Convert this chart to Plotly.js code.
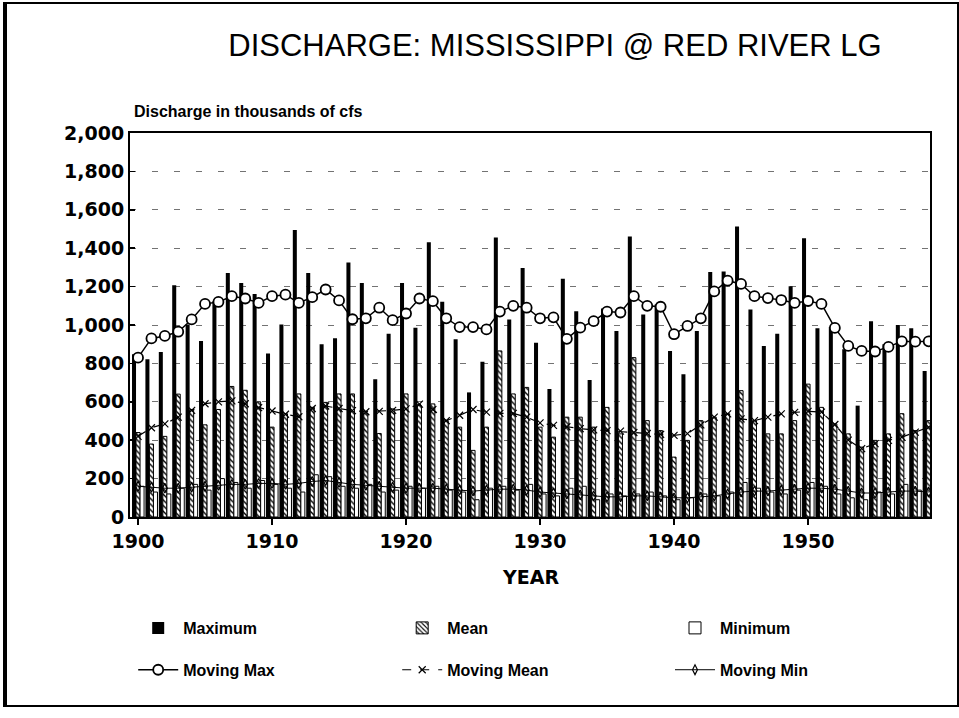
<!DOCTYPE html>
<html>
<head>
<meta charset="utf-8">
<script src="https://cdn.plot.ly/plotly-3.0.1.min.js"></script>
<style>
  html, body { margin: 0; padding: 0; background: #fff; }
  #wrap { position: relative; width: 959px; height: 718px; }
  #chart { width: 959px; height: 718px; }
  #frame { position: absolute; left: 3px; top: 2px; width: 950px; height: 701px;
           border: 2px solid #000; border-left-width: 4px; pointer-events: none; }
</style>
</head>
<body>
<div id="wrap">
  <div id="chart"></div>
  <div id="frame"></div>
</div>
<script>
// ---- data (thousands of cfs) ----
const years = [1900,1901,1902,1903,1904,1905,1906,1907,1908,1909,
               1910,1911,1912,1913,1914,1915,1916,1917,1918,1919,
               1920,1921,1922,1923,1924,1925,1926,1927,1928,1929,
               1930,1931,1932,1933,1934,1935,1936,1937,1938,1939,
               1940,1941,1942,1943,1944,1945,1946,1947,1948,1949,
               1950,1951,1952,1953,1954,1955,1956,1957,1958,1959];

const maximum = [848,822,860,1207,1003,917,1124,1271,1219,1162,
                 851,1003,1495,1271,900,931,1326,1219,718,955,
                 1219,986,1431,1121,926,649,808,1456,1029,1297,
                 908,667,1241,1072,713,1086,969,1461,1055,1107,
                 865,744,969,1276,1279,1513,1081,891,955,1202,
                 1452,983,989,874,580,1020,900,1000,983,761];

const mean = [440,380,420,640,560,480,560,680,660,600,
              468,538,641,571,597,641,641,538,435,563,
              641,580,589,502,468,347,468,865,641,675,
              468,416,520,520,468,571,433,830,502,450,
              312,399,502,520,538,658,502,433,433,502,
              692,571,485,433,364,399,433,538,450,502];

const minimum = [160,130,120,150,170,140,200,180,150,190,
                 170,150,130,220,210,160,150,170,130,140,
                 160,150,160,140,130,90,150,160,140,170,
                 120,110,150,160,90,120,110,120,130,110,
                 90,100,120,110,130,180,150,130,120,140,
                 180,160,120,100,90,130,120,170,140,110];

const movingMax = [830,930,943,965,1029,1110,1120,1150,1138,1115,
                   1150,1158,1115,1145,1185,1128,1030,1035,1090,1025,
                   1060,1138,1124,1035,989,989,977,1070,1100,1090,
                   1035,1040,928,986,1020,1070,1065,1150,1100,1095,
                   952,995,1035,1175,1231,1214,1150,1140,1130,1115,
                   1125,1110,985,891,865,862,886,915,913,915];

const movingMean = [420,465,485,520,555,590,600,605,590,570,
                    552,535,522,565,578,565,554,548,550,555,
                    563,588,560,502,530,560,546,540,540,520,
                    490,477,470,460,454,450,447,440,435,430,
                    425,434,480,520,537,511,502,520,537,545,
                    550,546,482,400,356,382,399,416,442,468];

const movingMin = [160,155,150,150,155,160,165,170,170,175,
                   175,170,175,185,190,180,170,165,160,155,
                   150,150,150,145,140,135,140,145,145,140,
                   130,125,120,115,110,105,105,110,110,105,
                   100,100,105,110,120,130,135,135,140,145,
                   150,150,145,135,125,125,130,135,135,130];

const yTicks = [0,200,400,600,800,1000,1200,1400,1600,1800,2000];
const yTickText = ['0','200','400','600','800','1,000','1,200','1,400','1,600','1,800','2,000'];
const xTicks = [1900,1910,1920,1930,1940,1950];
const xTickText = ['1900','1910','1920','1930','1940','1950'];

const seriesNames = ['Maximum','Mean','Minimum','Moving Max','Moving Mean','Moving Min'];

// ---- traces ----
const legendFont = {family: 'Liberation Sans, Arial, sans-serif', size: 16, color: '#000', weight: 'bold'};

const traces = [
  {type: 'bar', name: seriesNames[0], x: years, y: maximum, legend: 'legend',
   marker: {color: '#000', line: {width: 0}}},
  {type: 'bar', name: seriesNames[1], x: years, y: mean, legend: 'legend2',
   marker: {color: '#fff', line: {color: '#000', width: 1},
            pattern: {shape: '\\', fgcolor: '#000', bgcolor: '#fff', size: 4, solidity: 0.35}}},
  {type: 'bar', name: seriesNames[2], x: years, y: minimum, legend: 'legend3',
   marker: {color: '#fff', line: {color: '#000', width: 1}}},
  {type: 'scatter', mode: 'lines+markers', name: seriesNames[3], x: years, y: movingMax, legend: 'legend4',
   line: {color: '#000', width: 1.5},
   marker: {symbol: 'circle', size: 10, color: '#fff', line: {color: '#000', width: 1.8}}},
  {type: 'scatter', mode: 'lines+markers', name: seriesNames[4], x: years, y: movingMean, legend: 'legend5',
   line: {color: '#000', width: 1.2, dash: 'dash'},
   marker: {symbol: 'x-thin-open', size: 7, color: '#000', line: {color: '#000', width: 1.2}}},
  {type: 'scatter', mode: 'lines+markers', name: seriesNames[5], x: years, y: movingMin, legend: 'legend6',
   line: {color: '#000', width: 1},
   marker: {symbol: 'diamond-tall-open', size: 7, color: '#000', line: {color: '#000', width: 1.2}}}
];

const tickFont = {family: 'DejaVu Sans, sans-serif', size: 19, color: '#000', weight: 'bold'};

function legendAt(x, y) {
  return {orientation: 'h', x: x, xref: 'paper', xanchor: 'left', y: y, yref: 'paper', yanchor: 'middle',
          font: legendFont, itemwidth: 40, bgcolor: 'rgba(0,0,0,0)', borderwidth: 0};
}
const col = [0.004, 0.334, 0.675];
const row = [-0.289, -0.398];

const layout = {
  width: 959, height: 718,
  margin: {l: 130, r: 29, t: 133, b: 201},
  paper_bgcolor: '#fff', plot_bgcolor: '#fff',
  showlegend: true,
  barmode: 'group', bargap: 0.1, bargroupgap: 0,
  title: {text: 'DISCHARGE: MISSISSIPPI @ RED RIVER LG',
          font: {family: 'Liberation Sans Narrow, Arial Narrow, Liberation Sans, sans-serif', size: 31, color: '#000'},
          x: 0.5787, xref: 'container', xanchor: 'center', y: 0.937, yref: 'container', yanchor: 'middle'},
  xaxis: {range: [1899.4, 1959.1], tickvals: xTicks, ticktext: xTickText,
          ticks: 'outside', ticklen: 6, tickwidth: 2, tickcolor: '#000',
          showline: true, linecolor: '#000', linewidth: 2, mirror: true,
          showgrid: false, zeroline: false, tickfont: tickFont},
  yaxis: {range: [0, 2000], tickvals: yTicks, ticktext: yTickText,
          ticks: 'inside', ticklen: 5, tickwidth: 1.5, tickcolor: '#000',
          showline: true, linecolor: '#000', linewidth: 2, mirror: true,
          showgrid: true, gridcolor: 'rgba(0,0,0,0.55)', gridwidth: 1, griddash: '6px,16px',
          zeroline: false, tickfont: tickFont},
  legend: legendAt(col[0], row[0]),
  legend2: legendAt(col[1], row[0]),
  legend3: legendAt(col[2], row[0]),
  legend4: legendAt(col[0], row[1]),
  legend5: legendAt(col[1], row[1]),
  legend6: legendAt(col[2], row[1]),
  annotations: [
    {text: 'Discharge in thousands of cfs', xref: 'paper', yref: 'paper', x: 0, y: 1,
     xanchor: 'left', yanchor: 'middle', xshift: 2, yshift: 22, showarrow: false,
     font: {family: 'Liberation Sans, Arial, sans-serif', size: 16, color: '#000', weight: 'bold'}},
    {text: 'YEAR', xref: 'paper', yref: 'paper', x: 0.5, y: 0,
     xanchor: 'center', yanchor: 'middle', yshift: -60, showarrow: false,
     font: {family: 'DejaVu Sans, sans-serif', size: 19, color: '#000', weight: 'bold'}}
  ]
};

Plotly.newPlot('chart', traces, layout, {displayModeBar: false, staticPlot: true});
</script>
</body>
</html>
